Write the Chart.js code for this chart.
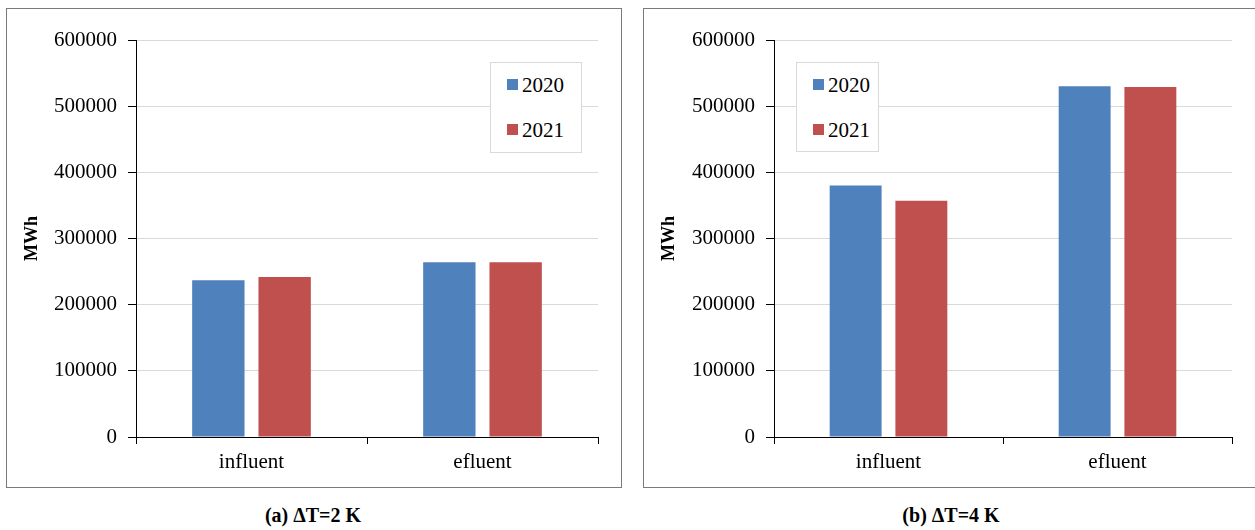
<!DOCTYPE html>
<html>
<head>
<meta charset="utf-8">
<script src="https://cdn.jsdelivr.net/npm/chart.js@4.4.0/dist/chart.umd.min.js"></script>
<style>
  body { margin: 0; background: #fff; font-family: 'Liberation Serif', 'Times New Roman', Times, serif; }
  .box { position: absolute; top: 8px; height: 480px; border: 1px solid #7a7a7a; box-sizing: border-box; background: #fff; }
  .box canvas { position: absolute; left: 0; top: 0; }
  .legend { position: absolute; border: 1px solid #d9d9d9; background: #fff; box-sizing: border-box; }
  .item { position: absolute; font-size: 21px; color: #000; line-height: 24px; height: 24px; }
  .item span.sw { position: absolute; left: 0; top: 6px; width: 11px; height: 11px; }
  .item span.tx { position: absolute; left: 15px; top: 0; white-space: nowrap; }
  .caption { position: absolute; top: 503px; width: 300px; text-align: center; font-weight: bold; font-size: 20px; line-height: 24px; }
</style>
</head>
<body>
<div class="box" id="boxA" style="left:6px; width:616px;"><canvas id="chartA" width="614" height="478"></canvas></div>
<div class="box" id="boxB" style="left:643px; width:613px;"><canvas id="chartB" width="611" height="478"></canvas></div>
<div class="caption" style="left:163px;">(a) ΔT=2 K</div>
<div class="caption" style="left:801px;">(b) ΔT=4 K</div>
<script>
// data
const categories = ['influent', 'efluent'];
const years = ['2020', '2021'];
const colors = ['#4f81bd', '#c0504d'];
const dt2_2020 = [237000, 264000];
const dt2_2021 = [242000, 264000];
const dt4_2020 = [380000, 530000];
const dt4_2021 = [357000, 529000];
const yTicks = [0, 100000, 200000, 300000, 400000, 500000, 600000];

const FONT = "'Liberation Serif', 'Times New Roman', Times, serif";

function makeChart(id, series, yWidth) {
  const ctx = document.getElementById(id);
  return new Chart(ctx, {
    type: 'bar',
    data: {
      labels: categories,
      datasets: series.map((vals, i) => ({
        label: years[i],
        data: vals,
        backgroundColor: colors[i],
        borderWidth: 0,
        barPercentage: 0.79,
        categoryPercentage: 0.574,
      })),
    },
    options: {
      responsive: false,
      animation: false,
      devicePixelRatio: 1,
      layout: { padding: { left: 0, top: 31, right: 23, bottom: 0 } },
      plugins: { legend: { display: false }, tooltip: { enabled: false } },
      scales: {
        x: {
          grid: { drawOnChartArea: false, offset: true, tickLength: 7, tickColor: '#000', color: '#000' },
          border: { color: '#000', width: 1 },
          ticks: { color: '#000', font: { family: FONT, size: 21 }, padding: 6 },
          afterFit: (s) => { s.height = 50; },
        },
        y: {
          min: yTicks[0],
          max: yTicks[yTicks.length - 1],
          afterBuildTicks: (s) => { s.ticks = yTicks.map(v => ({ value: v })); },
          grid: { color: '#d9d9d9', tickColor: '#000', tickLength: 8 },
          border: { color: '#000', width: 1 },
          ticks: { color: '#000', font: { family: FONT, size: 21 }, padding: 11, callback: (v) => String(v) },
          title: { display: true, text: 'MWh', color: '#000', font: { family: FONT, size: 18, weight: 'bold' }, padding: { top: 15, bottom: 0 } },
          afterFit: (s) => { s.width = yWidth; },
        },
      },
    },
  });
}

makeChart('chartA', [dt2_2020, dt2_2021], 129);
makeChart('chartB', [dt4_2020, dt4_2021], 130);

// legends drawn as html boxes inside the plot
function makeLegend(boxId, left, top, width, height) {
  const box = document.getElementById(boxId);
  const lg = document.createElement('div');
  lg.className = 'legend';
  lg.style.left = left + 'px';
  lg.style.top = top + 'px';
  lg.style.width = width + 'px';
  lg.style.height = height + 'px';
  years.forEach((y, i) => {
    const it = document.createElement('div');
    it.className = 'item';
    it.style.left = '16px';
    it.style.top = (10 + i * 45) + 'px';
    it.innerHTML = '<span class="sw" style="background:' + colors[i] + '"></span><span class="tx">' + y + '</span>';
    lg.appendChild(it);
  });
  box.appendChild(lg);
}
makeLegend('boxA', 483, 53, 92, 91);
makeLegend('boxB', 152, 53, 83, 90);
</script>
</body>
</html>
